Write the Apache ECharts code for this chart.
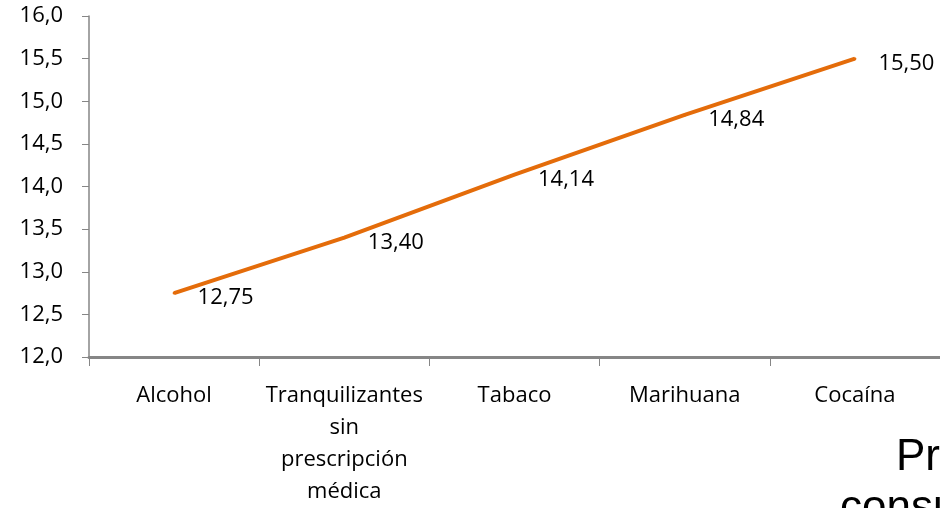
<!DOCTYPE html>
<html>
<head>
<meta charset="utf-8">
<script src="https://cdn.jsdelivr.net/npm/echarts@6/dist/echarts.min.js"></script>
<style>
html, body { margin: 0; padding: 0; background: #fff; }
#main { width: 940px; height: 508px; }
</style>
</head>
<body>
<div id="main"></div>
<script>
// datos del grafico
var categorias = ['Alcohol', 'Tranquilizantes\nsin\nprescripción\nmédica', 'Tabaco', 'Marihuana', 'Cocaína'];
var edades = [12.75, 13.40, 14.14, 14.84, 15.50];

var myChart = echarts.init(document.getElementById('main'));

function coma(v, d) {
    return v.toFixed(d).replace('.', ',');
}

option = {
    animation: false,
    grid: {
        left: 89,
        right: 0,
        top: 16,
        bottom: 151
    },
    xAxis: {
        type: 'category',
        data: categorias,
        axisLine: { lineStyle: { color: '#868686', width: 3 } },
        axisTick: { show: true, alignWithLabel: false, length: 9, lineStyle: { color: '#868686', width: 1 } },
        axisLabel: {
            color: '#000',
            fontFamily: 'Open Sans',
            fontSize: 22,
            lineHeight: 32,
            margin: 23,
            interval: 0
        }
    },
    yAxis: {
        type: 'value',
        min: 12,
        max: 16,
        interval: 0.5,
        axisLine: { show: true, lineStyle: { color: '#868686', width: 1.5 } },
        axisTick: { show: true, length: 7, lineStyle: { color: '#868686' } },
        splitLine: { show: false },
        axisLabel: {
            color: '#000',
            fontFamily: 'Open Sans',
            fontSize: 22,
            margin: 26,
            formatter: function (v) { return coma(v, 1); }
        }
    },
    series: [
        {
            type: 'line',
            data: edades,
            symbol: 'circle',
            symbolSize: 3,
            showSymbol: true,
            itemStyle: { color: '#E46C0A' },
            lineStyle: { color: '#E46C0A', width: 4 },
            label: {
                show: true,
                position: 'right',
                distance: 22,
                offset: [0, 5],
                color: '#000',
                fontFamily: 'Open Sans',
                fontSize: 22,
                formatter: function (p) { return coma(p.value, 2); }
            }
        }
    ],
    graphic: [
        {
            type: 'text',
            left: 896,
            top: 436,
            style: { text: 'Promedio', fontFamily: 'Liberation Sans', fontSize: 44, fill: '#000' }
        },
        {
            type: 'text',
            left: 840,
            top: 487,
            style: { text: 'consumo', fontFamily: 'Liberation Sans', fontSize: 44, fill: '#000' }
        }
    ]
};

myChart.setOption(option);
</script>
</body>
</html>
